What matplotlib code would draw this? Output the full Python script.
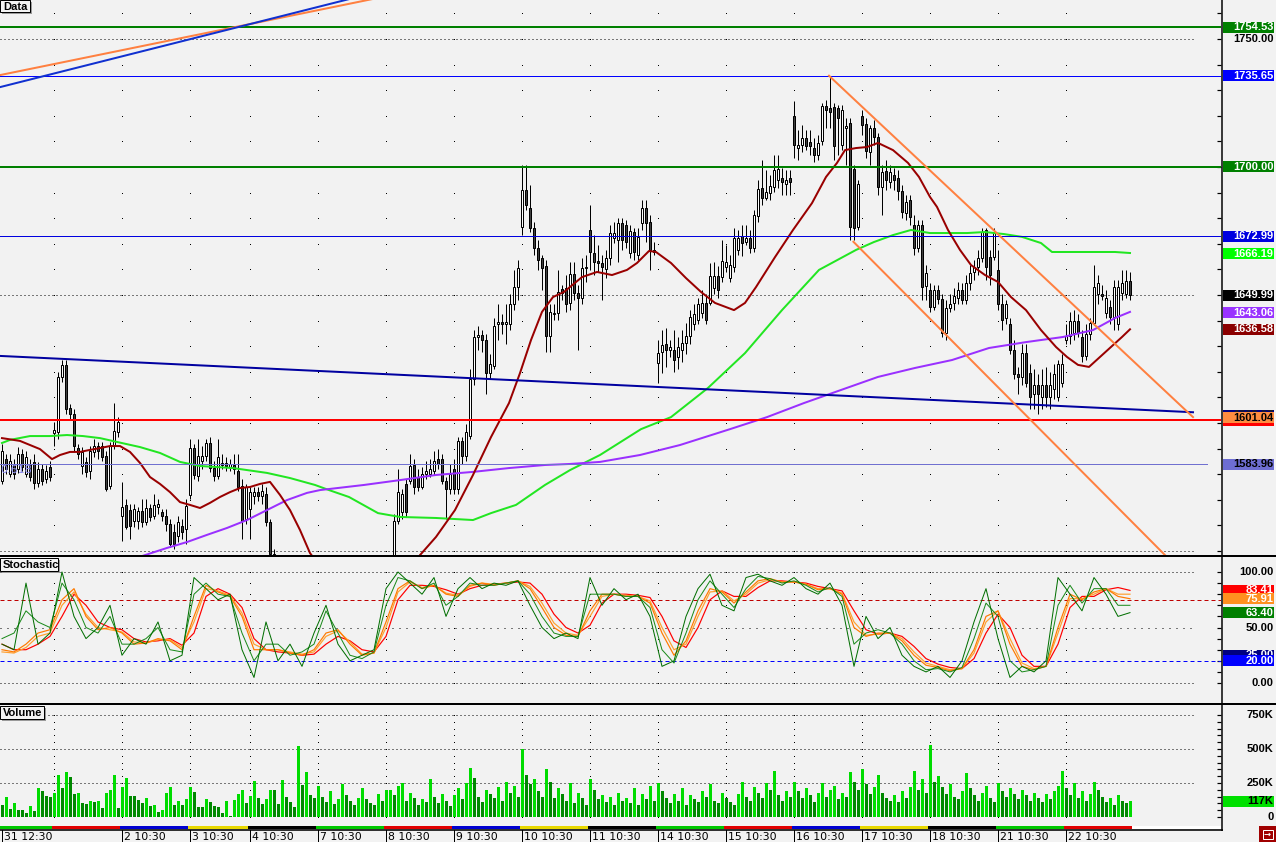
import numpy as np
import matplotlib
matplotlib.use("Agg")
import matplotlib.pyplot as plt
import matplotlib.transforms as mtransforms
from matplotlib.patches import Rectangle

# ---- price bars (one bar per slot) -------------------------------------
opens = [
    1577.2, 1585.8, 1580.0, 1583.9, 1581.9, 1587.8, 1580.0, 1583.9, 1584.6, 1576.4,
    1581.9, 1578.0, 1582.7, 1595.9, 1596.3, 1617.8, 1622.5, 1605.7, 1603.7, 1590.1,
    1583.1, 1584.6, 1581.1, 1588.5, 1590.9, 1590.9, 1587.0, 1575.3, 1590.9, 1596.3,
    1563.6, 1567.9, 1565.9, 1561.6, 1561.6, 1565.5, 1561.2, 1566.7, 1563.6, 1567.1,
    1565.1, 1563.6, 1560.5, 1557.3, 1555.8, 1559.7, 1558.5, 1571.8, 1590.1, 1579.2,
    1585.0, 1587.0, 1592.0, 1582.3, 1579.2, 1584.2, 1584.2, 1582.7, 1583.5, 1581.1,
    1575.3, 1562.4, 1566.3, 1571.4, 1572.9, 1571.4, 1572.2, 1561.2, 1548.8, 1539.0,
    1534, 1531, 1535, 1538, 1532, 1527, 1530, 1534, 1530, 1526,
    1529, 1533, 1530, 1532, 1536, 1533, 1529, 1531, 1535, 1532,
    1528, 1530, 1534, 1537, 1535, 1538, 1541, 1539, 1546.0, 1561.6,
    1565.1, 1576.1, 1577.2, 1583.5, 1578.8, 1574.9, 1580.0, 1580.0, 1581.1, 1585.8,
    1585.8, 1577.2, 1574.1, 1581.9, 1574.1, 1592.8, 1587.0, 1594.8, 1617.0, 1633.4,
    1634.2, 1632.6, 1619.7, 1622.1, 1638.8, 1639.6, 1638.5, 1638.5, 1646.3, 1653.3,
    1676.7, 1691.1, 1684.1, 1676.3, 1668.5, 1664.6, 1661.5, 1633.8, 1642.4, 1643.1,
    1652.5, 1652.9, 1647.0, 1658.3, 1650.9, 1649.0, 1660.7, 1675.5, 1666.5, 1663.4,
    1662.6, 1660.3, 1664.6, 1672.4, 1671.6, 1678.2, 1677.5, 1666.5, 1674.7, 1665.7,
    1678.2, 1684.1, 1678.6, 1667.7, 1623.6, 1627.9, 1630.7, 1628.7, 1628.7, 1625.6,
    1628.7, 1631.4, 1633.8, 1638.5, 1640.4, 1643.1, 1647.0, 1647.0, 1652.9, 1657.6,
    1657.2, 1661.1, 1656.8, 1661.1, 1667.7, 1673.2, 1670.8, 1672.4, 1668.5, 1681.0,
    1691.9, 1688.0, 1689.9, 1692.3, 1695.0, 1695.8, 1693.4, 1695.8, 1720.0, 1707.5,
    1708.6, 1711.4, 1709.8, 1707.5, 1704.7, 1710.2, 1723.9, 1723.1, 1723.5, 1723.1,
    1708.6, 1715.3, 1717.2, 1699.3, 1676.7, 1720.0, 1716.8, 1705.9, 1715.3, 1711.8,
    1692.3, 1698.5, 1694.2, 1697.0, 1695.8, 1690.7, 1682.1, 1687.2, 1677.5, 1668.5,
    1677.5, 1653.7, 1652.1, 1645.5, 1652.1, 1648.6, 1635.3, 1645.1, 1647.0, 1649.0,
    1652.1, 1648.2, 1654.8, 1659.1, 1661.1, 1664.6, 1675.5, 1665.0, 1665.0, 1659.9,
    1646.3, 1641.2, 1638.8, 1628.7, 1619.0, 1617.8, 1627.5, 1619.7, 1611.2, 1615.0,
    1610.0, 1615.0, 1610.0, 1613.1, 1610.0, 1615.8, 1632.6, 1633.8, 1635.3, 1640.0,
    1633.4, 1626.0, 1634.6, 1639.2, 1650.5, 1650.5, 1643.1, 1645.5, 1641.6, 1638.5,
    1650.9, 1650.5, 1655.6,
]
highs = [
    1591.7, 1587.8, 1587.8, 1585.8, 1590.5, 1589.7, 1588.9, 1585.8, 1587.8, 1584.6,
    1583.9, 1583.5, 1585.0, 1600.2, 1620.1, 1624.8, 1624.8, 1607.3, 1605.3, 1591.7,
    1590.5, 1586.6, 1590.9, 1593.6, 1592.4, 1592.4, 1588.9, 1592.4, 1608.0, 1602.2,
    1576.8, 1570.2, 1568.3, 1568.3, 1567.1, 1570.2, 1570.2, 1568.3, 1572.2, 1570.2,
    1566.3, 1566.3, 1562.4, 1560.5, 1563.6, 1562.4, 1570.2, 1593.6, 1591.7, 1593.6,
    1590.9, 1593.6, 1594.4, 1585.0, 1593.6, 1587.8, 1586.6, 1585.8, 1587.8, 1587.8,
    1578.0, 1576.1, 1574.9, 1574.9, 1574.9, 1576.1, 1574.9, 1562.4, 1550.7, 1541.0,
    1538, 1536, 1540, 1541, 1535, 1533, 1536, 1538, 1533, 1531,
    1535, 1537, 1534, 1538, 1540, 1536, 1533, 1537, 1539, 1535,
    1532, 1536, 1539, 1541, 1540, 1543, 1545, 1546, 1564.4, 1581.9,
    1574.1, 1578.0, 1587.8, 1585.8, 1581.9, 1582.7, 1585.0, 1585.8, 1588.9, 1589.7,
    1587.8, 1578.8, 1583.9, 1585.8, 1594.4, 1594.4, 1599.5, 1620.9, 1636.5, 1637.7,
    1636.5, 1634.6, 1626.8, 1641.2, 1646.3, 1642.4, 1646.3, 1650.2, 1659.9, 1663.8,
    1700.9, 1700.9, 1693.1, 1678.6, 1671.6, 1665.7, 1663.8, 1646.3, 1646.3, 1659.9,
    1654.1, 1657.9, 1663.0, 1663.0, 1654.1, 1664.6, 1665.7, 1685.2, 1673.6, 1669.7,
    1665.7, 1667.7, 1677.5, 1678.6, 1680.2, 1680.2, 1679.4, 1677.5, 1676.3, 1676.3,
    1687.2, 1687.2, 1681.4, 1670.8, 1632.6, 1636.5, 1637.3, 1632.6, 1636.5, 1633.4,
    1636.5, 1639.2, 1644.3, 1646.3, 1649.0, 1652.1, 1650.5, 1662.6, 1663.0, 1661.5,
    1671.6, 1669.7, 1665.7, 1676.3, 1675.5, 1677.5, 1677.5, 1675.5, 1683.3, 1695.0,
    1702.8, 1698.9, 1697.0, 1704.7, 1704.7, 1699.7, 1698.9, 1698.9, 1725.8, 1714.5,
    1716.5, 1714.5, 1714.5, 1711.4, 1712.6, 1725.0, 1726.2, 1735.65, 1725.0, 1724.2,
    1724.2, 1719.2, 1719.2, 1700.9, 1695.0, 1722.3, 1719.2, 1716.5, 1718.4, 1713.3,
    1700.9, 1702.8, 1700.9, 1699.7, 1698.9, 1693.1, 1689.2, 1689.2, 1681.4, 1679.4,
    1679.4, 1661.9, 1654.8, 1654.1, 1654.1, 1650.2, 1648.2, 1650.2, 1652.9, 1655.2,
    1654.8, 1657.9, 1661.9, 1663.8, 1667.7, 1676.3, 1676.3, 1667.7, 1676.3, 1667.7,
    1650.2, 1648.2, 1641.2, 1632.6, 1621.7, 1630.7, 1630.7, 1622.9, 1620.9, 1619.0,
    1620.9, 1621.7, 1620.1, 1622.9, 1624.8, 1626.8, 1638.5, 1643.5, 1644.3, 1642.4,
    1636.5, 1638.5, 1641.2, 1661.9, 1657.9, 1654.1, 1652.1, 1648.2, 1656.0, 1656.0,
    1659.9, 1659.9, 1659.1,
]
lows = [
    1576.1, 1580.0, 1578.8, 1578.0, 1580.3, 1581.1, 1578.8, 1577.2, 1574.1, 1574.9,
    1575.7, 1576.4, 1577.2, 1590.9, 1593.6, 1616.2, 1603.4, 1601.4, 1588.9, 1585.8,
    1580.0, 1578.8, 1578.0, 1586.6, 1585.8, 1585.0, 1573.3, 1574.1, 1589.7, 1594.4,
    1553.8, 1558.5, 1554.6, 1559.3, 1558.5, 1559.3, 1560.1, 1561.6, 1562.4, 1564.4,
    1561.6, 1557.7, 1551.5, 1550.7, 1553.4, 1554.6, 1552.7, 1570.2, 1578.0, 1577.2,
    1581.9, 1585.0, 1580.7, 1577.2, 1578.0, 1581.9, 1581.1, 1581.1, 1580.0, 1573.3,
    1554.6, 1560.5, 1554.6, 1568.3, 1569.4, 1568.3, 1559.7, 1546.8, 1537.0, 1532.0,
    1529, 1527, 1532, 1530, 1524, 1522, 1528, 1529, 1524, 1521,
    1526, 1528, 1525, 1530, 1531, 1527, 1524, 1529, 1530, 1526,
    1523, 1528, 1531, 1533, 1532, 1535, 1537, 1536, 1544.0, 1560.5,
    1562.4, 1563.2, 1576.1, 1572.2, 1573.3, 1574.1, 1578.0, 1578.8, 1579.6, 1581.9,
    1576.1, 1562.4, 1572.2, 1572.2, 1572.2, 1583.9, 1585.0, 1593.6, 1615.0, 1628.7,
    1627.9, 1611.2, 1617.0, 1620.9, 1632.6, 1634.6, 1630.7, 1636.5, 1644.3, 1648.2,
    1673.6, 1683.3, 1674.7, 1665.7, 1659.9, 1652.1, 1627.9, 1627.9, 1640.4, 1640.4,
    1648.2, 1643.5, 1644.3, 1648.2, 1628.7, 1646.3, 1655.2, 1659.9, 1657.9, 1659.1,
    1648.2, 1656.8, 1661.9, 1670.4, 1663.0, 1667.7, 1668.5, 1664.6, 1663.8, 1663.8,
    1675.5, 1670.8, 1659.9, 1665.7, 1615.8, 1619.7, 1621.7, 1625.6, 1620.1, 1620.9,
    1624.0, 1626.8, 1630.7, 1636.5, 1638.5, 1641.2, 1638.5, 1645.9, 1650.2, 1649.0,
    1655.2, 1659.1, 1655.2, 1659.1, 1665.7, 1665.4, 1669.7, 1666.5, 1666.9, 1678.6,
    1685.2, 1687.2, 1687.2, 1690.3, 1691.9, 1689.2, 1689.2, 1689.2, 1703.6, 1702.8,
    1705.9, 1706.7, 1704.7, 1702.0, 1702.8, 1708.6, 1715.3, 1715.3, 1702.8, 1704.7,
    1706.7, 1700.9, 1671.6, 1671.6, 1675.5, 1712.6, 1703.6, 1700.9, 1708.6, 1689.2,
    1681.4, 1691.1, 1691.9, 1691.1, 1687.2, 1680.2, 1679.4, 1677.5, 1665.7, 1666.9,
    1648.2, 1648.2, 1643.5, 1644.3, 1646.3, 1633.4, 1632.6, 1643.5, 1644.3, 1646.3,
    1646.3, 1646.3, 1652.1, 1656.0, 1657.9, 1663.0, 1656.0, 1654.1, 1663.8, 1644.3,
    1636.5, 1638.5, 1626.8, 1617.0, 1611.2, 1615.0, 1613.9, 1605.3, 1605.3, 1603.4,
    1605.3, 1606.1, 1605.3, 1609.2, 1608.4, 1613.9, 1630.7, 1630.7, 1632.6, 1633.4,
    1624.0, 1624.8, 1632.6, 1638.1, 1646.3, 1648.2, 1641.2, 1638.5, 1636.5, 1636.5,
    1648.2, 1649.0, 1648.2,
]
closes = [
    1588.9, 1581.9, 1585.0, 1580.0, 1587.8, 1582.7, 1586.6, 1578.8, 1576.4, 1581.9,
    1577.2, 1581.1, 1578.8, 1597.1, 1617.8, 1622.5, 1605.3, 1603.7, 1590.9, 1587.8,
    1588.5, 1580.7, 1588.9, 1590.9, 1588.9, 1586.6, 1574.1, 1590.9, 1596.7, 1600.2,
    1567.1, 1559.3, 1559.7, 1566.3, 1565.5, 1561.2, 1566.7, 1563.2, 1567.9, 1568.3,
    1563.6, 1560.5, 1552.7, 1552.7, 1561.2, 1557.3, 1567.5, 1590.1, 1579.6, 1587.0,
    1587.0, 1592.0, 1582.3, 1579.2, 1586.6, 1583.5, 1583.1, 1583.9, 1581.9, 1574.9,
    1561.6, 1574.9, 1572.9, 1572.9, 1571.4, 1573.3, 1561.2, 1548.8, 1539.0, 1534.0,
    1531, 1535, 1538, 1532, 1527, 1530, 1534, 1530, 1526, 1529,
    1533, 1530, 1532, 1536, 1533, 1529, 1531, 1535, 1532, 1528,
    1530, 1534, 1537, 1535, 1538, 1541, 1539, 1543, 1561.6, 1572.9,
    1572.2, 1565.1, 1583.1, 1574.9, 1574.9, 1580.0, 1581.1, 1581.9, 1585.0, 1583.9,
    1577.2, 1574.1, 1580.0, 1574.1, 1592.8, 1587.0, 1596.3, 1617.0, 1633.4, 1634.2,
    1632.6, 1619.7, 1622.9, 1637.7, 1639.6, 1638.8, 1639.6, 1646.6, 1653.3, 1660.7,
    1691.1, 1685.2, 1676.3, 1668.5, 1663.8, 1660.7, 1633.8, 1643.5, 1643.1, 1651.3,
    1650.9, 1646.3, 1658.3, 1650.9, 1649.0, 1660.7, 1661.1, 1666.9, 1663.0, 1662.6,
    1661.1, 1664.6, 1674.3, 1674.3, 1678.2, 1671.6, 1670.8, 1675.1, 1666.9, 1672.8,
    1684.1, 1678.2, 1667.7, 1666.9, 1627.5, 1630.3, 1628.7, 1629.5, 1624.8, 1629.5,
    1631.4, 1633.8, 1641.6, 1642.4, 1646.6, 1647.0, 1640.4, 1657.6, 1657.6, 1652.1,
    1663.4, 1663.0, 1661.9, 1672.4, 1672.4, 1670.4, 1672.4, 1668.5, 1681.4, 1691.5,
    1688.0, 1690.3, 1692.7, 1698.9, 1699.3, 1694.2, 1695.0, 1694.2, 1708.6, 1708.6,
    1711.4, 1708.3, 1708.3, 1704.7, 1709.4, 1723.9, 1722.3, 1721.5, 1708.3, 1719.2,
    1722.3, 1716.1, 1676.7, 1676.3, 1693.4, 1716.5, 1706.3, 1715.3, 1711.8, 1692.3,
    1698.1, 1695.0, 1698.1, 1695.0, 1690.7, 1682.5, 1686.4, 1680.6, 1668.5, 1677.5,
    1653.3, 1658.7, 1645.5, 1652.1, 1648.6, 1635.3, 1645.1, 1646.6, 1649.8, 1652.1,
    1648.2, 1654.8, 1658.7, 1661.1, 1664.6, 1674.7, 1661.1, 1657.9, 1674.3, 1646.3,
    1640.4, 1646.3, 1628.7, 1619.0, 1617.8, 1627.5, 1615.8, 1610.0, 1615.0, 1611.2,
    1615.0, 1610.0, 1615.0, 1619.0, 1622.9, 1623.2, 1633.8, 1640.0, 1640.0, 1635.3,
    1626.0, 1634.6, 1639.2, 1653.3, 1654.8, 1649.8, 1649.0, 1641.6, 1653.3, 1653.3,
    1654.8, 1655.6, 1650.0,
]

# ---- volume, thousands --------------------------------------------------
volume_k = [
    88, 145, 59, 100, 51, 51, 27, 81, 44, 216, 191, 154, 147, 174, 309, 216, 333, 294, 169, 176,
    103, 96, 118, 110, 118, 66, 176, 199, 309, 66, 221, 287, 154, 154, 125, 103, 140, 81, 88, 37,
    51, 176, 221, 88, 118, 88, 132, 221, 184, 74, 74, 132, 110, 81, 74, 29, 118, 7, 125, 169,
    199, 103, 154, 265, 140, 96, 132, 199, 199, 96, 272, 147, 110, 74, 522, 235, 331, 162, 140, 228,
    150, 110, 190, 95, 130, 240, 165, 120, 90, 140, 210, 130, 100, 85, 170, 120, 195,
    200, 160, 230, 250, 120, 180, 140, 90, 130, 110, 280, 150, 100, 170, 120, 80, 160,
    210, 130, 250, 360, 290, 150, 110, 200, 170, 140, 220, 120, 260, 180, 230, 150,
    500, 310, 240, 280, 190, 150, 350, 260, 140, 210, 170, 120, 250, 100, 180, 140, 90,
    280, 200, 130, 160, 110, 150, 90, 180, 120, 140, 100, 210, 90, 170, 130, 230, 120,
    250, 190, 140, 100, 170, 120, 210, 90, 160, 130, 110, 190, 150, 240, 120, 100, 180,
    140, 110, 90, 170, 260, 150, 120, 220, 180, 140, 250, 200, 340, 160, 120, 190, 150,
    260, 190, 140, 210, 160, 110, 180, 250, 150, 200, 230, 130, 180, 150, 330, 260, 200,
    350, 240, 170, 220, 310, 180, 140, 120, 160, 110, 190, 140, 220, 340, 200, 280, 180,
    530, 260, 300, 220, 170, 240, 150, 130, 190, 320, 210, 160, 120, 180, 230, 140, 110,
    250, 190, 150, 210, 170, 130, 200, 160, 120, 180, 140, 110, 170, 130, 190, 230, 340,
    210, 160, 250, 140, 190, 120, 170, 260, 200, 150, 110, 140, 90, 160, 120, 100, 117,
]

# ---- moving averages (bar position, value) ------------------------------
ma_red_x = [0, 4.5, 9.5, 12.5, 14.5, 17, 19.5, 22, 24.5, 27,
            29.5, 32, 34.5, 37, 39.5, 42, 44.5, 47, 49.5, 52,
            54.5, 57, 59.5, 62, 64.5, 67, 69.5, 72, 74.5, 77,
            82, 87, 92, 97, 102, 104.5, 108.5, 113.25, 117.75, 122.25,
            126.75, 129.5, 132.25, 135, 137.75, 140.5, 145, 148.75, 152.5, 156.25,
            158.75, 161.75, 163.5, 167.25, 171, 174.75, 178.25, 183, 185.75, 188.5,
            193.25, 197.75, 202.5, 206, 208.75, 210.75, 213.5, 216.25, 219, 222.75,
            226.5, 229.25, 232, 233.75, 236.5, 239.5, 242.25, 245.75, 249, 252.25,
            256, 259.75, 263.5, 266.25, 269, 271.75, 274.5, 277.25, 280, 282]
ma_red = [1594.1, 1593.0, 1589.8, 1585.9, 1587.5, 1588.7, 1588.7, 1589.5, 1590.2, 1591.0,
          1591.0, 1588.7, 1584.4, 1578.9, 1576.2, 1573.0, 1569.1, 1568.0, 1566.8, 1568.8,
          1571.1, 1573.0, 1574.6, 1575.0, 1576.2, 1577.0, 1571.9, 1566.0, 1558.2, 1549.2,
          1538.6, 1530.9, 1528.9, 1534.0, 1542.5, 1548.4, 1555.5, 1566.0, 1579.7, 1594.5,
          1607.8, 1619.5, 1632.4, 1643.4, 1649.2, 1651.2, 1657.0, 1659.0, 1657.8, 1659.8,
          1662.5, 1667.2, 1666.8, 1662.5, 1656.6, 1651.2, 1646.9, 1644.1, 1646.9, 1653.1,
          1664.8, 1675.4, 1685.9, 1696.1, 1701.6, 1706.6, 1707.4, 1707.8, 1709.4, 1706.6,
          1701.6, 1696.1, 1688.3, 1684.4, 1675.4, 1667.6, 1661.7, 1657.8, 1655.1, 1649.2,
          1644.1, 1636.3, 1629.7, 1625.8, 1622.7, 1621.9, 1625.8, 1629.7, 1633.6, 1636.6]

ma_green_x = [0, 2, 7, 12, 16.25, 20.25, 24.5, 28.75, 34.5, 39.5,
              44.5, 49.5, 57.75, 66.25, 72, 78.25, 81.75, 86.75, 94, 99.5,
              108.5, 117.75, 122.25, 128.5, 135.75, 142, 149.5, 159.75, 167.25, 176.5,
              185.75, 195, 204.25, 213.5, 218, 222.75, 227.25, 232, 241.25, 245.75,
              250.5, 255, 259.75, 262.5, 269, 278.25, 282]
ma_green = [1592.2, 1593.4, 1594.9, 1594.9, 1595.3, 1594.9, 1594.1, 1592.6, 1590.6, 1588.3,
            1584.8, 1583.2, 1582.4, 1580.5, 1578.5, 1575.8, 1573.8, 1571.1, 1564.8, 1563.3,
            1562.9, 1562.1, 1564.8, 1568.0, 1575.8, 1581.6, 1587.5, 1597.6, 1602.3, 1613.7,
            1627.3, 1644.1, 1659.8, 1667.6, 1670.7, 1673.4, 1675.4, 1674.2, 1674.2, 1674.6,
            1673.8, 1672.7, 1670.3, 1666.8, 1666.8, 1666.8, 1666.4]

ma_purple_x = [30, 35.75, 41.25, 46.25, 51.25, 56.25, 61.25, 66.25, 71.25, 76.25, 79.5,
               90.5, 99.5, 108.5, 117.75, 126.75, 135.75, 142, 149.5, 159.5, 169.5,
               182, 191.25, 200.5, 209.75, 219, 228.25, 237.5, 246.75, 256, 265.25,
               272.75, 278.25, 282]
ma_purple = [1545.5, 1548.4, 1551.2, 1553.5, 1556.3, 1559.0, 1562.1, 1566.0, 1569.9, 1572.7, 1573.8,
             1575.8, 1577.7, 1579.7, 1580.9, 1582.4, 1583.6, 1584.0, 1584.8, 1587.5, 1591.4,
             1597.6, 1602.3, 1607.8, 1612.9, 1618.0, 1621.5, 1624.6, 1629.3, 1631.6, 1633.6,
             1636.3, 1641.0, 1643.4]

# ---- stochastic, every third bar ------------------------------------------
stoch_x = list(range(0, 283, 3))
stoch_k = [35, 30, 90, 35, 45, 100, 60, 40, 50, 70,
           25, 40, 35, 55, 20, 25, 95, 85, 75, 80,
           30, 5, 55, 20, 35, 15, 45, 70, 35, 20,
           25, 30, 85, 100, 90, 80, 95, 60, 85, 95,
           85, 90, 88, 92, 70, 50, 40, 45, 40, 95,
           70, 85, 75, 80, 60, 15, 20, 60, 85, 98,
           70, 65, 95, 98, 92, 88, 95, 85, 80, 90,
           70, 15, 60, 40, 50, 25, 15, 10, 15, 5,
           20, 55, 85, 40, 5, 15, 10, 20, 95, 80,
           65, 95, 80, 60, 63.4]
stoch_k2 = [40, 45, 65, 55, 50, 90, 75, 50, 45, 60,
            35, 35, 40, 50, 30, 28, 80, 90, 80, 78,
            45, 20, 35, 35, 25, 28, 35, 65, 45, 25,
            22, 28, 70, 95, 92, 85, 90, 70, 78, 90,
            88, 88, 90, 92, 80, 60, 45, 42, 42, 80,
            80, 80, 78, 78, 68, 30, 18, 45, 75, 92,
            80, 68, 85, 96, 94, 90, 92, 88, 82, 86,
            78, 35, 45, 48, 45, 35, 20, 12, 13, 10,
            14, 40, 72, 60, 20, 10, 12, 15, 70, 88,
            72, 85, 85, 70, 70]
stoch_orange = [30, 28, 35, 45, 48, 75, 85, 60, 48, 50,
                45, 35, 36, 40, 38, 30, 60, 88, 82, 78,
                60, 30, 30, 30, 27, 25, 30, 45, 48, 35,
                25, 27, 55, 85, 92, 85, 88, 80, 78, 88,
                90, 88, 90, 92, 85, 68, 50, 43, 42, 65,
                80, 80, 78, 78, 72, 45, 25, 38, 65, 85,
                82, 72, 82, 92, 94, 91, 91, 89, 84, 85,
                80, 50, 42, 45, 45, 38, 25, 16, 14, 11,
                13, 30, 60, 65, 35, 15, 12, 15, 50, 80,
                75, 82, 85, 78, 75.91]
stoch_gold = [28, 27, 32, 42, 45, 70, 82, 62, 50, 48,
              46, 37, 36, 39, 39, 32, 55, 85, 83, 79,
              63, 35, 30, 30, 28, 26, 28, 42, 47, 37,
              26, 27, 50, 82, 91, 86, 88, 81, 79, 87,
              90, 89, 90, 92, 87, 72, 54, 45, 43, 60,
              78, 80, 79, 78, 74, 50, 30, 35, 60, 82,
              83, 74, 80, 90, 93, 91, 91, 89, 85, 85,
              81, 55, 43, 44, 45, 40, 28, 18, 15, 12,
              13, 27, 55, 65, 40, 18, 13, 15, 45, 76,
              76, 80, 85, 80, 80]
stoch_red = [35, 30, 30, 35, 42, 60, 80, 70, 55, 50,
             48, 40, 37, 38, 40, 34, 45, 78, 85, 80,
             68, 40, 30, 28, 27, 25, 26, 35, 42, 38,
             30, 28, 42, 75, 88, 88, 87, 84, 80, 85,
             88, 89, 90, 91, 90, 80, 62, 50, 45, 52,
             72, 80, 80, 79, 77, 60, 38, 32, 50, 75,
             83, 78, 78, 86, 92, 92, 91, 90, 87, 85,
             83, 65, 48, 44, 45, 42, 33, 22, 17, 14,
             13, 22, 45, 62, 50, 25, 15, 15, 35, 68,
             78, 78, 84, 86, 83.41]

# ---- time axis ------------------------------------------------------------
day_ticks = [0, 30, 47, 62, 79, 96, 113, 130, 147, 164, 181, 198, 215, 232, 249, 266]
day_labels = ['31 12:30', '2 10:30', '3 10:30', '4 10:30', '7 10:30', '8 10:30',
              '9 10:30', '10 10:30', '11 10:30', '14 10:30', '15 10:30', '16 10:30',
              '17 10:30', '18 10:30', '21 10:30', '22 10:30']
session_edges = [0, 13, 30, 47, 62, 79, 96, 113, 130, 147, 164, 181, 198, 215, 232, 249, 266, 283]
session_colors = ['#00c800', '#e00000', '#0000d0', '#e8d800', '#000000']

# ---- drawn objects on the price panel ---------------------------------------
h_levels = [1754.53, 1735.65, 1700.00, 1672.99, 1601.04]
h_colors = ['#008000', '#0000ff', '#008000', '#0000e0', '#ff0000']
h_px = [2, 1, 2, 1, 2]
fib_level = 1583.96
trend_navy = ([-0.5, 297.75], [1626.2, 1604.2])
chan_top = ([206.75, 297.75], [1735.65, 1602.3])
chan_bottom = ([212.85, 290.75], [1670.8, 1548.4])
old_orange = ([-0.5, 99.5], [1735.9, 1767.8])
old_blue = ([-0.5, 99.5], [1731.2, 1770.6])

price_plain = [(1750, '1750.00'), (1650, '1650.00')]
price_tags = [
    (1754.53, '1754.53', '#008000', 'white'),
    (1735.65, '1735.65', '#0000ff', 'white'),
    (1700.00, '1700.00', '#008000', 'white'),
    (1672.99, '1672.99', '#0000e0', 'white'),
    (1666.19, '1666.19', '#00ff00', 'white'),
    (1649.99, '1649.99', '#000000', 'white'),
    (1643.06, '1643.06', '#9933ff', 'white'),
    (1636.58, '1636.58', '#8b0000', 'white'),
    (1601.04, '1601.04', '#ff0000', 'white'),
    (1603.07, '1603.07', '#000080', '#202020'),
    (1602.10, '1601.04', '#ff8c40', 'black'),
    (1583.96, '1583.96', '#6e6ed2', 'black'),
]
stoch_plain = [(100, '100.00'), (50, '50.00'), (0, '0.00')]
stoch_tags = [
    (83.41, '83.41', '#ff0000', 'white'),
    (75.91, '75.91', '#ff9020', 'white'),
    (63.40, '63.40', '#008000', 'white'),
    (25.00, '25.00', '#000080', 'white'),
    (20.00, '20.00', '#0000ff', 'white'),
]
vol_plain = [(750, '750K'), (500, '500K'), (250, '250K'), (0, '0')]
vol_tags = [(117, '117K', '#00e000', 'black')]

# ---------------------------------------------------------------------------
W, H = 1276, 842
PX = 0.72          # one pixel in points at dpi 100
BG = '#f2f2f2'
TAGFONT = dict(family='Liberation Sans', fontweight='bold', fontsize=8)

fig = plt.figure(figsize=(W / 100, H / 100), dpi=100, facecolor=BG)


def pbox(x0, y0, x1, y1):
    return [x0 / W, 1 - y1 / H, (x1 - x0) / W, (y1 - y0) / H]


def panel(y0, y1, ylim, yticks):
    ax = fig.add_axes(pbox(0, y0, 1221, y1))
    ax.set_facecolor(BG)
    ax.set_xlim(-0.5, 304.75)
    ax.set_ylim(*ylim)
    for s in ax.spines.values():
        s.set_visible(False)
    ax.set_xticks([])
    ax.yaxis.tick_right()
    ax.set_yticks(yticks)
    ax.tick_params(axis='y', direction='in', length=4 * PX, width=PX * 1.2,
                   color='black', labelright=False)
    r = fig.add_axes(pbox(1221, y0, 1276, y1))
    r.set_xlim(0, 1)
    r.set_ylim(*ylim)
    r.axis('off')
    return ax, r


ax_p, r_p = panel(0, 555, (1548.44, 1765.23), np.arange(1550, 1770, 10))
ax_s, r_s = panel(557, 703, (-18.0, 113.5), np.arange(0, 101, 10))
ax_v, r_v = panel(705, 829, (-88.2, 823.5), np.arange(0, 800, 50))

grid_cols = [13] + day_ticks[1:]


def dot_grid(ax, rows):
    gx, gy = np.meshgrid(grid_cols, rows)
    ax.plot(gx.ravel(), gy.ravel(), ls='none', marker='s', ms=PX, mew=0,
            color='black', zorder=1)


def dotted(ax, y, pattern=(1, 3)):
    ax.plot([-0.5, 298.25], [y, y], color='black', lw=PX, ls=(0, pattern), zorder=1)


# ---- price panel ----
dot_grid(ax_p, np.arange(1550, 1770, 10))
for lvl in (1750, 1650, 1550):
    dotted(ax_p, lvl)

o = np.array(opens)
c = np.array(closes)
hi = np.array(highs)
lo = np.array(lows)
idx = np.arange(len(c))
up = c >= o
ax_p.vlines(idx, lo, hi, color='black', lw=PX, zorder=3)
body = np.maximum(np.abs(c - o), 0.4)
ax_p.bar(idx[up], body[up], bottom=np.minimum(o, c)[up], width=0.62,
         color='white', edgecolor='black', linewidth=PX, zorder=4)
ax_p.bar(idx[~up], body[~up], bottom=np.minimum(o, c)[~up], width=0.62,
         color='#404040', edgecolor='black', linewidth=PX, zorder=4)

ax_p.plot(ma_green_x, ma_green, color='#22e622', lw=2 * PX, zorder=5)
ax_p.plot(ma_purple_x, ma_purple, color='#9a30ff', lw=2 * PX, zorder=5)
ax_p.plot(ma_red_x, ma_red, color='#990000', lw=2 * PX, zorder=5)

for lvl, col, w in zip(h_levels, h_colors, h_px):
    ax_p.axhline(lvl, color=col, lw=w * PX, zorder=6)
ax_p.plot([-0.5, 301.25], [fib_level, fib_level], color='#7070d0', lw=PX, zorder=6)
ax_p.text(-0.4, 1581.8, '0.618', color='#8c8cf0', fontsize=8, va='center',
          ha='left', zorder=6)

ax_p.plot(*trend_navy, color='#0000a0', lw=2 * PX, zorder=6)
ax_p.plot(*chan_top, color='#ff8040', lw=2 * PX, zorder=6)
ax_p.plot(*chan_bottom, color='#ff8040', lw=2 * PX, zorder=6)
ax_p.plot(*old_orange, color='#ff8040', lw=2 * PX, zorder=6)
ax_p.plot(*old_blue, color='#1030d0', lw=2 * PX, zorder=6)

# ---- stochastic panel ----
dot_grid(ax_s, np.arange(0, 101, 10))
dotted(ax_s, 100)
dotted(ax_s, 0)
dotted(ax_s, 50, (1, 6))
ax_s.axhline(75, color='#c00000', lw=PX, ls=(0, (4, 3)), zorder=2)
ax_s.axhline(20, color='#0000ff', lw=PX, ls=(0, (4, 3)), zorder=2)
ax_s.plot(stoch_x, stoch_red, color='#ff0000', lw=PX * 1.2, zorder=3)
ax_s.plot(stoch_x, stoch_gold, color='#ffa030', lw=PX * 1.2, zorder=3)
ax_s.plot(stoch_x, stoch_orange, color='#ff7a00', lw=PX * 1.2, zorder=3)
ax_s.plot(stoch_x, stoch_k2, color='#1a8a1a', lw=PX, zorder=4)
ax_s.plot(stoch_x, stoch_k, color='#006e00', lw=PX, zorder=4)

# ---- volume panel ----
dot_grid(ax_v, np.arange(0, 800, 50))
for lvl in (250, 500, 750):
    dotted(ax_v, lvl)
vol = np.array(volume_k, dtype=float)
rising = np.r_[False, vol[1:] > vol[:-1]]
vcols = np.where(rising, '#00dc00', '#008800')
ax_v.bar(np.arange(len(vol)), vol, width=0.75, color=vcols, linewidth=0, zorder=3)


# ---- right-hand value tags ----
def put_tags(r, ppu, plain, tagged):
    tr = mtransforms.blended_transform_factory(r.transAxes, r.transData)
    for val, txt in plain:
        r.text(0.95, val, txt, transform=tr, ha='right', va='center', color='black',
               zorder=1, **TAGFONT)
    z = 2
    hh = 5.5 / ppu
    for val, txt, fc, tc in tagged:
        r.add_patch(Rectangle((0.04, val - hh), 0.92, 2 * hh, transform=tr,
                              facecolor=fc, edgecolor='none', zorder=z))
        r.text(0.95, val, txt, transform=tr, ha='right', va='center', color=tc,
               zorder=z + 0.5, **TAGFONT)
        z += 1


put_tags(r_p, 555 / (1765.23 - 1548.44), price_plain, price_tags)
put_tags(r_s, 146 / 131.5, stoch_plain, stoch_tags)
put_tags(r_v, 124 / 911.7, vol_plain, vol_tags)

# ---- overlay in pixel coordinates: frames, time axis, titles ----
ov = fig.add_axes([0, 0, 1, 1], zorder=20)
ov.set_xlim(0, W)
ov.set_ylim(H, 0)
ov.axis('off')

for k in range(len(session_edges) - 1):
    e0, e1 = session_edges[k], session_edges[k + 1]
    ov.add_patch(Rectangle((4 * e0, 826.2), 4 * (e1 - e0), 2.9,
                           facecolor=session_colors[k % 5], edgecolor='none'))
ov.add_patch(Rectangle((4 * session_edges[-1], 826.2), 1221 - 4 * session_edges[-1], 2.9,
                       facecolor='white', edgecolor='none'))

ov.plot([0, W], [556, 556], color='black', lw=2 * PX, solid_capstyle='butt')
ov.plot([0, W], [704, 704], color='black', lw=2 * PX, solid_capstyle='butt')
ov.plot([0, 1222.5], [829.8, 829.8], color='black', lw=1.6 * PX, solid_capstyle='butt')
ov.plot([1221.5, 1221.5], [0, 830.5], color='black', lw=1.5 * PX, solid_capstyle='butt')

for t, lab in zip(day_ticks, day_labels):
    px = 4 * t + 2
    ov.plot([px, px], [830, 842], color='black', lw=PX)
    ov.text(px + 2, 836.8, lab, fontsize=7.8, family='DejaVu Sans',
            ha='left', va='center', color='black')


def title_box(x, y, w, h, text):
    ov.add_patch(Rectangle((x + 2, y + 2), w, h, facecolor='#9a9a9a', edgecolor='none'))
    ov.add_patch(Rectangle((x, y), w, h, facecolor='#f4f4f4', edgecolor='black', lw=PX))
    ov.text(x + 3, y + h / 2 + 0.5, text, ha='left', va='center', color='black',
            **TAGFONT)


title_box(0, 0, 30, 12, 'Data')
title_box(0, 557.5, 58, 13, 'Stochastic')
title_box(0, 706, 44, 13, 'Volume')

ov.add_patch(Rectangle((1259, 826), 17, 16, facecolor='#a00000', edgecolor='none'))
ov.add_patch(Rectangle((1262.5, 829.5), 10, 9, fill=False, edgecolor='white', lw=PX))
ov.text(1267.5, 834, '→', color='white', fontsize=6, ha='center', va='center',
        family='DejaVu Sans', fontweight='bold')

fig.savefig('out.png', dpi=100, facecolor=BG)
